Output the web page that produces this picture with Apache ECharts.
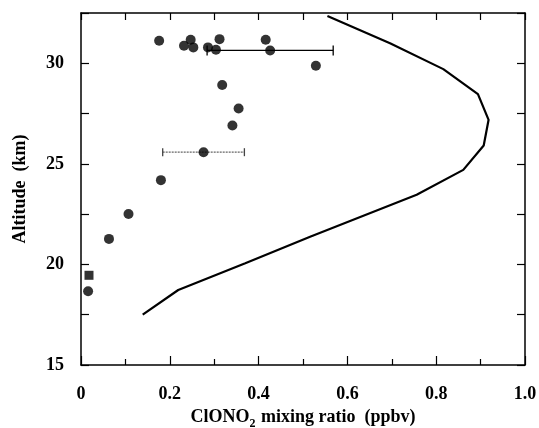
<!DOCTYPE html>
<html><head><meta charset="utf-8">
<script src="https://cdn.jsdelivr.net/npm/echarts@6/dist/echarts.min.js"></script>
<style>html,body{margin:0;padding:0;background:#fff}#c{width:539px;height:428px}</style>
</head><body><div id="c"></div>
<script>
// Measured ClONO2 (circles)
const circleX = [0.176,0.247,0.232,0.253,0.312,0.416,0.286,0.304,0.426,0.529,0.318,0.355,0.341,0.276,0.180,0.107,0.063,0.016];
const circleY = [31.12,31.17,30.87,30.79,31.20,31.17,30.79,30.67,30.64,29.88,28.92,27.75,26.91,25.58,24.19,22.51,21.27,18.67];
// Square marker
const squareX = [0.018];
const squareY = [19.46];
// Model profile (line)
const modelX = [0.139,0.219,0.370,0.516,0.756,0.861,0.907,0.918,0.894,0.816,0.696,0.555];
const modelY = [17.50,18.73,20.06,21.38,23.46,24.70,25.91,27.19,28.47,29.71,31.00,32.35];
// Error bars: low, high, altitude
const errLow  = [0.284, 0.184];
const errHigh = [0.568, 0.368];
const errY    = [30.64, 25.58];
const errStyle = ['solid','dotted'];
// Tick labels
const xTickLabels = {'0':'0','0.2':'0.2','0.4':'0.4','0.6':'0.6','0.8':'0.8','1':'1.0'};
const yTickLabels = {'15':'15','20':'20','25':'25','30':'30'};

const font = 'Liberation Serif';
const chart = echarts.init(document.getElementById('c'));
const zip = (a,b)=>a.map((v,i)=>[v,b[i]]);
const errData = errY.map((y,i)=>[errLow[i], errHigh[i], y, i]);

chart.setOption({
  animation:false,
  backgroundColor:'#fff',
  grid:{left:81,right:14,top:13,bottom:63,containLabel:false,outerBoundsMode:'none'},
  xAxis:[{
    type:'value',min:0,max:1,interval:0.2,position:'bottom',
    axisLine:{show:true,onZero:false,lineStyle:{color:'#000',width:1.5}},
    axisTick:{show:true,inside:true,length:9,lineStyle:{color:'#000',width:1.2}},
    minorTick:{show:true,splitNumber:2,length:6,lineStyle:{color:'#000',width:1.2}},
    splitLine:{show:false},
    axisLabel:{color:'#000',fontFamily:font,fontWeight:'bold',fontSize:18,margin:20,
      formatter:v=>{const k=String(Math.round(v*10)/10);return xTickLabels[k]!==undefined?xTickLabels[k]:'';}},
    name:'{a|ClONO}{s|2}{a| mixing ratio  (ppbv)}',nameLocation:'middle',nameGap:41,
    nameTextStyle:{rich:{
      a:{fontFamily:font,fontWeight:'bold',fontSize:18,color:'#000',lineHeight:20,verticalAlign:'top'},
      s:{fontFamily:font,fontWeight:'bold',fontSize:12,color:'#000',lineHeight:12,verticalAlign:'top',padding:[10,1,0,0]}}}
  },{
    type:'value',min:0,max:1,interval:0.1,position:'top',
    axisLine:{show:true,onZero:false,lineStyle:{color:'#000',width:1.5}},
    axisTick:{show:true,inside:true,length:7,lineStyle:{color:'#000',width:1.2}},
    axisLabel:{show:false},splitLine:{show:false}
  }],
  yAxis:[{
    type:'value',min:15,max:32.5,interval:2.5,position:'left',
    axisLine:{show:true,onZero:false,lineStyle:{color:'#000',width:1.5}},
    axisTick:{show:true,inside:true,length:8,lineStyle:{color:'#000',width:1.2}},
    splitLine:{show:false},
    axisLabel:{color:'#000',fontFamily:font,fontWeight:'bold',fontSize:18,margin:17,
      formatter:v=>{const k=String(v);return yTickLabels[k]!==undefined?yTickLabels[k]:'';}},
    name:'Altitude  (km)',nameLocation:'middle',nameGap:52,nameRotate:90,
    nameTextStyle:{fontFamily:font,fontWeight:'bold',fontSize:18,color:'#000'}
  },{
    type:'value',min:15,max:32.5,interval:2.5,position:'right',
    axisLine:{show:true,onZero:false,lineStyle:{color:'#000',width:1.5}},
    axisTick:{show:true,inside:true,length:8,lineStyle:{color:'#000',width:1.2}},
    axisLabel:{show:false},splitLine:{show:false}
  }],
  series:[
    {type:'line',data:zip(modelX,modelY),xAxisIndex:0,yAxisIndex:0,showSymbol:false,
      lineStyle:{color:'#000',width:2.2},itemStyle:{color:'#000'},clip:true,z:2},
    {type:'custom',xAxisIndex:0,yAxisIndex:0,data:errData,z:3,
      renderItem:(params,api)=>{
        const lo=api.coord([api.value(0),api.value(2)]);
        const hi=api.coord([api.value(1),api.value(2)]);
        const idx=api.value(3);
        const dotted=errStyle[idx]==='dotted';
        const st={stroke:dotted?'#666':'#000',lineWidth:dotted?1.2:1.3,lineDash:dotted?[2,1]:null};
        const cap=dotted?4:5;
        return {type:'group',children:[
          {type:'line',shape:{x1:lo[0],y1:lo[1],x2:hi[0],y2:hi[1]},style:st},
          {type:'line',shape:{x1:lo[0],y1:lo[1]-cap,x2:lo[0],y2:lo[1]+cap},style:{stroke:dotted?'#444':'#000',lineWidth:1.3}},
          {type:'line',shape:{x1:hi[0],y1:hi[1]-cap,x2:hi[0],y2:hi[1]+cap},style:{stroke:dotted?'#444':'#000',lineWidth:1.3}}
        ]};
      }},
    {type:'scatter',data:zip(circleX,circleY),symbol:'circle',symbolSize:10,
      itemStyle:{color:'#000'},z:4},
    {type:'scatter',data:zip(squareX,squareY),symbol:'rect',symbolSize:9,
      itemStyle:{color:'#000'},z:4}
  ]
});
</script></body></html>
